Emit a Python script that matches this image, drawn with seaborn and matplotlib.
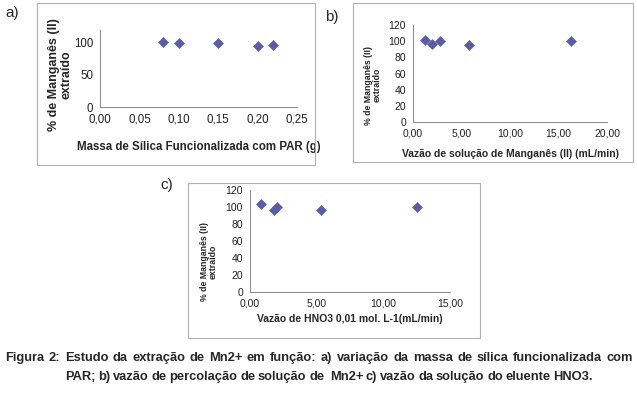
import matplotlib
matplotlib.use("Agg")
import matplotlib.pyplot as plt
import seaborn as sns
import pandas as pd
from matplotlib.patches import Rectangle

sns.set_style("white")
plt.rcParams['font.family'] = ['Liberation Sans', 'DejaVu Sans']

# panel a) mass of functionalised silica
massa = [0.08, 0.10, 0.15, 0.20, 0.22]
extr_a = [102, 99, 99, 95, 96]
# panel b) flow of Mn(II) solution
vazao_mn = [1.2, 2.0, 2.8, 5.8, 16.3]
extr_b = [102, 97, 100, 95, 100]
# panel c) flow of HNO3 eluent
vazao_hno3 = [0.8, 1.8, 2.0, 5.3, 12.5]
extr_c = [103, 97, 100, 96, 100]

xt_a = [0, 0.05, 0.10, 0.15, 0.20, 0.25]
xt_b = [0, 5, 10, 15, 20]
xt_c = [0, 5, 10, 15]

caption1 = 'Figura 2: Estudo da extração de Mn2+ em função: a) variação da massa de sílica funcionalizada com'
caption2 = 'PAR; b) vazão de percolação de solução de  Mn2+ c) vazão da solução do eluente HNO3.'

W, H = 637, 394
fig = plt.figure(figsize=(W / 100, H / 100), dpi=100)


def px_axes(l, t, r, b):
    return fig.add_axes([l / W, (H - b) / H, (r - l) / W, (b - t) / H])


def box(l, t, r, b):
    fig.patches.append(Rectangle((l / W, (H - b) / H), (r - l) / W, (b - t) / H,
                                 transform=fig.transFigure, fill=False,
                                 edgecolor='#b0b0b0', lw=0.8))


def fmt(v, nd=2):
    return f"{v:.{nd}f}".replace('.', ',')


def panel(ax, x, y, xt, yt, xlabel, ylab_size, xlab_size, tick_size, lpad):
    df = pd.DataFrame({'x': x, 'y': y})
    sns.scatterplot(data=df, x='x', y='y', marker='D', s=26, color='#5c5ca6',
                    edgecolor='#5c5ca6', ax=ax)
    ax.set_xlim(xt[0], xt[-1])
    ax.set_ylim(0, 120)
    ax.set_xticks(xt)
    ax.set_xticklabels([fmt(v) for v in xt], fontsize=tick_size, color='#222222')
    ax.set_yticks(yt)
    ax.set_yticklabels([str(v) for v in yt], fontsize=tick_size, color='#222222')
    for s in ['top', 'right']:
        ax.spines[s].set_visible(False)
    for s in ['left', 'bottom']:
        ax.spines[s].set_color('#909090')
        ax.spines[s].set_linewidth(0.8)
    ax.tick_params(direction='out', length=3, width=0.6, color='#909090', pad=2)
    ax.set_xlabel(xlabel, fontsize=xlab_size, fontweight='bold', labelpad=lpad)
    ax.set_ylabel('% de Manganês (II)\nextraído', fontsize=ylab_size,
                  fontweight='bold', linespacing=1.0)
    ax.set_facecolor('none')


box(37, 3, 315, 165)
ax_a = px_axes(100, 30, 297, 107)
panel(ax_a, massa, extr_a, xt_a, [0, 50, 100],
      'Massa de Sílica Funcionalizada com PAR (g)', 9, 8.3, 8.3, 11)
ax_a.yaxis.set_label_coords(-0.14, 0.42)

box(353, 3, 633, 162)
ax_b = px_axes(413, 25, 607, 122)
panel(ax_b, vazao_mn, extr_b, xt_b, list(range(0, 121, 20)),
      'Vazão de solução de Manganês (II) (mL/min)', 6.3, 7.5, 7.5, 7)
ax_b.yaxis.set_label_coords(-0.16, 0.38)

box(188, 183, 480, 338)
ax_c = px_axes(250, 190, 450, 292)
panel(ax_c, vazao_hno3, extr_c, xt_c, list(range(0, 121, 20)),
      'Vazão de HNO3 0,01 mol. L-1(mL/min)', 6.3, 7.5, 7.5, 4)
ax_c.yaxis.set_label_coords(-0.16, 0.3)

fig.text(5 / W, 1 - 13 / H, 'a)', fontsize=11, va='center')
fig.text(325 / W, 1 - 17 / H, 'b)', fontsize=11, va='center')
fig.text(160 / W, 1 - 185 / H, 'c)', fontsize=11, va='center')

# caption lines spread to the widths seen in the reference
renderer = fig.canvas.get_renderer()
cap_kw = dict(fontsize=9.3, fontweight='bold', va='center')


def spread(text, x0, x1, y):
    words = text.split(' ')
    arts = [fig.text(0, 1 - y / H, w, **cap_kw) for w in words]
    widths = [a.get_window_extent(renderer).width for a in arts]
    gap = (x1 - x0 - sum(widths)) / (len(words) - 1)
    xpos = x0
    for a, w in zip(arts, widths):
        a.set_x(xpos / W)
        xpos += w + gap


spread(caption1, 5, 633, 358)
spread(caption2, 65, 593, 377)

fig.savefig('out.png', dpi=100, facecolor='white')
